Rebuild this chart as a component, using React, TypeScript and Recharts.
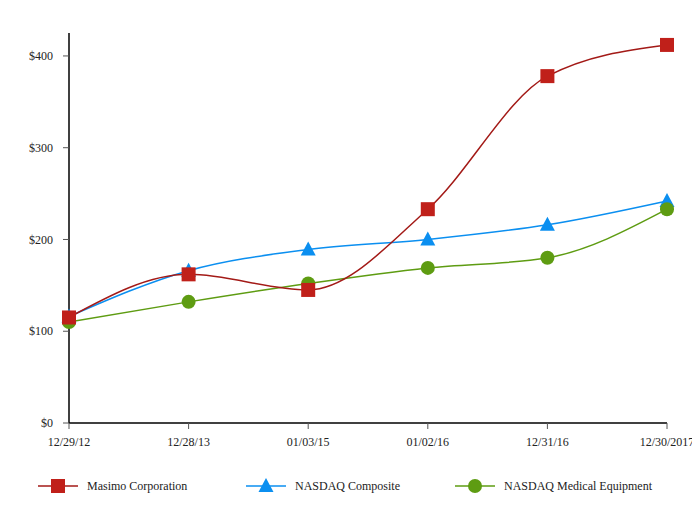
import { Legend, Line, LineChart, XAxis, YAxis } from "recharts";

const dates = ["12/29/12", "12/28/13", "01/03/15", "01/02/16", "12/31/16", "12/30/2017"];
const masimo = [115, 162, 145, 233, 378, 412];
const composite = [116, 166, 189, 200, 216, 242];
const medical = [110, 132, 152, 169, 180, 233];
const yTicks = [0, 100, 200, 300, 400];

const RED = "#c0201a";
const RED_LINE = "#a31a17";
const BLUE = "#0b8ff0";
const GREEN = "#5e9c12";
const FONT = "'Liberation Serif', 'DejaVu Serif', serif";

const data = dates.map((date, i) => ({
  date,
  masimo: masimo[i],
  composite: composite[i],
  medical: medical[i],
}));

type DotProps = { cx?: number; cy?: number; index?: number };

const square = (p: DotProps) =>
  p.cx == null || p.cy == null ? <g key={p.index} /> : (
    <rect key={p.index} x={p.cx - 7} y={p.cy - 7} width={14} height={14} fill={RED} />
  );
const triangle = (p: DotProps) =>
  p.cx == null || p.cy == null ? <g key={p.index} /> : (
    <path
      key={p.index}
      d={`M${p.cx},${p.cy - 8} L${p.cx + 7.5},${p.cy + 6} L${p.cx - 7.5},${p.cy + 6} Z`}
      fill={BLUE}
    />
  );
const circle = (p: DotProps) =>
  p.cx == null || p.cy == null ? <g key={p.index} /> : (
    <circle key={p.index} cx={p.cx} cy={p.cy} r={7} fill={GREEN} />
  );

const legendItems = [
  { name: "Masimo Corporation", color: RED_LINE, marker: "square", x: 38 },
  { name: "NASDAQ Composite", color: BLUE, marker: "triangle", x: 246 },
  { name: "NASDAQ Medical Equipment", color: GREEN, marker: "circle", x: 455 },
];

function renderLegend() {
  return (
    <svg width={700} height={24} style={{ display: "block" }}>
      {legendItems.map((it) => {
        const cx = it.x + 20;
        return (
          <g key={it.name}>
            <line x1={it.x} x2={it.x + 40} y1={12} y2={12} stroke={it.color} strokeWidth={1.5} />
            {it.marker === "square" && <rect x={cx - 7} y={5} width={14} height={14} fill={RED} />}
            {it.marker === "triangle" && (
              <path d={`M${cx},4 L${cx + 7.5},18 L${cx - 7.5},18 Z`} fill={BLUE} />
            )}
            {it.marker === "circle" && <circle cx={cx} cy={12} r={7} fill={GREEN} />}
            <text x={it.x + 49} y={16} fontFamily={FONT} fontSize={12} fill="#222">
              {it.name}
            </text>
          </g>
        );
      })}
    </svg>
  );
}

export default function App() {
  return (
    <div style={{ margin: -8, width: 700, height: 521, background: "#fff" }}>
      <LineChart width={700} height={521} data={data} margin={{ top: 33, right: 33, bottom: 40, left: 0 }}>
        <XAxis
          dataKey="date"
          tick={{ fill: "#222", fontSize: 12, fontFamily: FONT }}
          tickLine={{ stroke: "#555" }}
          tickSize={6}
          tickMargin={8}
          axisLine={{ stroke: "#000", strokeWidth: 1.5 }}
          height={34}
          interval={0}
        />
        <YAxis
          domain={[0, 425]}
          ticks={yTicks}
          tickFormatter={(v: number) => `$${v}`}
          tick={{ fill: "#222", fontSize: 12, fontFamily: FONT }}
          tickLine={{ stroke: "#555" }}
          tickSize={6}
          tickMargin={10}
          axisLine={{ stroke: "#000", strokeWidth: 1.5 }}
          width={69}
        />
        <Legend
          verticalAlign="bottom"
          content={renderLegend}
          wrapperStyle={{ left: 0, bottom: 23, width: 700 }}
        />
        <Line
          type="monotone"
          dataKey="composite"
          stroke={BLUE}
          strokeWidth={1.5}
          dot={triangle}
          activeDot={false}
          isAnimationActive={false}
        />
        <Line
          type="monotone"
          dataKey="medical"
          stroke={GREEN}
          strokeWidth={1.5}
          dot={circle}
          activeDot={false}
          isAnimationActive={false}
        />
        <Line
          type="monotone"
          dataKey="masimo"
          stroke={RED_LINE}
          strokeWidth={1.5}
          dot={square}
          activeDot={false}
          isAnimationActive={false}
        />
      </LineChart>
    </div>
  );
}
